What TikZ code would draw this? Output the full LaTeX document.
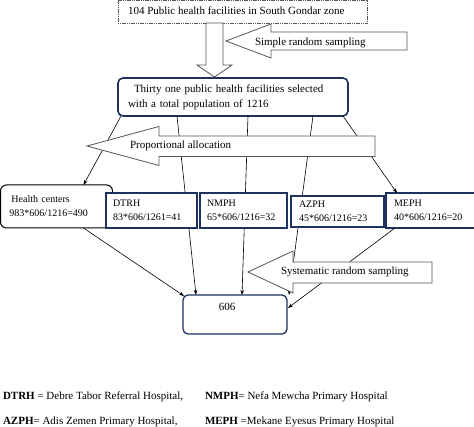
\documentclass[tikz,border=0pt]{standalone}
\usepackage{fontspec}
\setmainfont{Liberation Serif}
\usetikzlibrary{arrows.meta,calc}
\definecolor{boxblue}{RGB}{30,50,95}
\definecolor{arrgray}{RGB}{85,85,85}
\begin{document}
\begin{tikzpicture}[x=1pt,y=-1pt,
  every node/.style={inner sep=0pt, outer sep=0pt},
  txt/.style={font=\fontsize{11}{13}\selectfont},
  hbox/.style={draw=boxblue, line width=1.2pt, fill=white, anchor=north west, align=left,
    font=\fontsize{10}{14}\selectfont, inner xsep=7pt},
  block/.style={draw=arrgray, fill=white, line width=0.8pt, line join=miter},
  conn/.style={line width=0.6pt, -{Stealth[length=5pt,width=3.6pt]}},
  plain/.style={line width=0.6pt}]
\useasboundingbox (0,0) rectangle (474,427);

% top box
\node[draw=arrgray, dash pattern=on 1.2pt off 0.6pt, line width=0.7pt, fill=white,
  minimum width=249pt, minimum height=23pt, anchor=north west, txt] (top) at (118,0.5) {};
\node[txt, anchor=west] (toptxt) at (128,11) {104 Public health facilities in South Gondar zone};

% big box
\node[draw=boxblue, line width=1.6pt, rounded corners=5pt, fill=white, anchor=north west,
  minimum width=230pt, minimum height=38pt, align=left, text width=210pt, inner xsep=10pt,
  font=\fontsize{11}{15}\selectfont] (big) at (118,78)
  {\hspace*{6pt}Thirty one public health facilities selected\\with a total population of 1216};

% coordinates on big box bottom
\path (big.south west) ++(3,0) coordinate (s1);
\path (big.south west) ++(59,0) coordinate (s2);
\path (big.south west) ++(130,0) coordinate (s3);
\path (big.south west) ++(195,0) coordinate (s4);
\path (big.south west) ++(225,0) coordinate (s5);

% 606 box
\node[draw=boxblue, line width=1.3pt, rounded corners=5pt, fill=white, anchor=north west,
  minimum width=104pt, minimum height=39pt] (res) at (183,295) {};
\node[txt, anchor=center] (restxt) at (227,307) {606};

\path (res.north west) ++(13,0) coordinate (e2);
\path (res.north west) ++(59,0) coordinate (e3);
\path (res.north west) ++(106,0) coordinate (e4);

% connectors (pass behind boxes)
\draw[conn] (s2) -- (e2);
\draw[conn] (s3) -- (e3);
\draw[conn] (s4) -- (e4);

% lower boxes
\node[draw=black, line width=1pt, rounded corners=6pt, fill=white, anchor=north west, align=left,
  font=\fontsize{10}{14}\selectfont, minimum width=101.5pt, minimum height=43pt,
  text width=90pt, inner xsep=11pt] (hc) at (0.5,185) {Health centers\\[-0pt]\hspace*{-2pt}983*606/1216=490};
\node[hbox, minimum width=91pt, minimum height=35pt, text width=77pt] (dt) at (106,193) {DTRH\\83*606/1261=41};
\node[hbox, minimum width=87pt, minimum height=35pt, text width=73pt] (nm) at (200,193) {NMPH\\65*606/1216=32};
\node[hbox, minimum width=91pt, minimum height=31pt, text width=77pt, inner xsep=8pt] (az) at (291,196) {AZPH\\45*606/1216=23};
\node[hbox, minimum width=87pt, minimum height=35pt, text width=73pt, inner xsep=8pt] (me) at (386,193) {MEPH\\40*606/1216=20};

\draw[conn] (s1) -- ($(hc.north west)+(83,0)$);
\draw[conn] (s5) -- ($(me.north west)+(11,0)$);
\draw[conn] ($(hc.south west)+(83,0)$) -- ($(res.north west)+(1,1)$);
\draw[conn] ($(me.south west)+(9,0)$) -- ($(res.north east)+(1,13)$);

% block arrows
\draw[block] (206,23) -- (223,23) -- (223,65) -- (232,65) -- (214.5,77) -- (197,65) -- (206,65) -- cycle;
\draw[block] (226,41) -- (271,24) -- (271,32) -- (407,32) -- (407,50) -- (271,50) -- (271,58) -- cycle;
\node[txt, anchor=west] (srs) at (255,43) {Simple random sampling};
\draw[block] (87,146) -- (159,126.5) -- (159,136) -- (375,136) -- (375,156.5) -- (159,156.5) -- (159,165.5) -- cycle;
\node[txt, anchor=west] (pa) at (130,146) {Proportional allocation};
\draw[block] (248,272) -- (293,251) -- (293,262) -- (432,262) -- (432,283) -- (293,283) -- (293,293) -- cycle;
\node[txt, anchor=west] (sys) at (281,272) {Systematic random sampling};

% legend
\node[txt, anchor=west] (l1) at (3,397) {\textbf{DTRH} = Debre Tabor Referral Hospital,};
\node[txt, anchor=west] (l2) at (205,397) {\textbf{NMPH}= Nefa Mewcha Primary Hospital};
\node[txt, anchor=west] (l3) at (3,422) {\textbf{AZPH}= Adis Zemen Primary Hospital,};
\node[txt, anchor=west] (l4) at (205,422) {\textbf{MEPH} =Mekane Eyesus Primary Hospital};
\end{tikzpicture}
\end{document}
